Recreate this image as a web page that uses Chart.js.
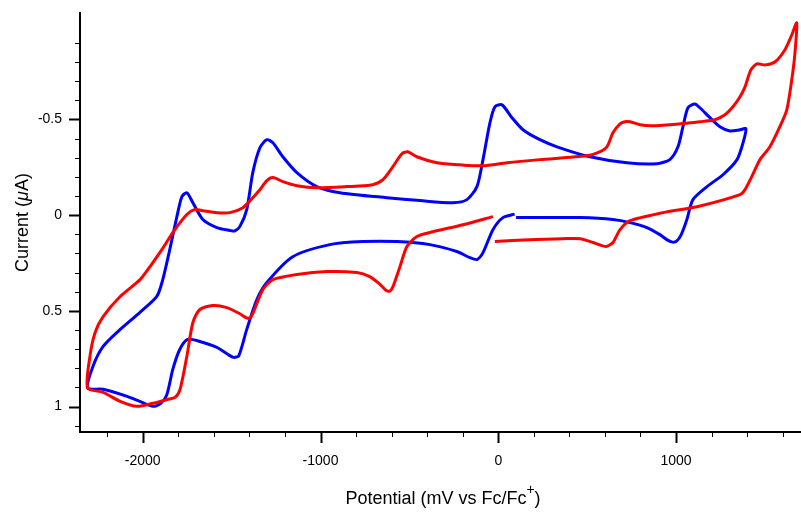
<!DOCTYPE html>
<html>
<head>
<meta charset="utf-8">
<script src="https://cdn.jsdelivr.net/npm/chart.js@4/dist/chart.umd.min.js"></script>
<style>
  html, body { margin: 0; padding: 0; background: #fff; }
  #wrap { width: 801px; height: 512px; }
</style>
</head>
<body>
<div id="wrap"><canvas id="cv" width="801" height="512"></canvas></div>
<script>
// potential in mV vs Fc/Fc+, current in uA
const redX = [-19, 178, 364, 460, 533, 606, 645, 685, 741, 927, 1118, 1360, 1388, 1426, 1472, 1528, 1584, 1623, 1651, 1668, 1679,
  1651, 1612, 1556, 1500, 1455, 1421, 1388, 1360, 1320, 1275, 1219, 1135, 1022, 870, 797, 741, 712, 685, 645, 611, 560, 498,
  233, 49, -86, -215, -345, -458, -509, -542, -593, -649, -706, -852, -1021, -1133, -1212, -1268, -1302, -1341, -1381,
  -1437, -1510, -1583, -1662, -1707, -1752, -1831, -1885, -1960, -2015, -2127, -2223, -2268, -2297, -2310,
  -2223, -2127, -2032, -1942, -1863, -1818, -1790, -1752, -1718, -1679, -1606, -1527, -1454, -1420, -1398, -1381, -1324, -1268,
  -1133, -964, -796, -723, -667, -632, -610, -593, -553, -514, -458, -385, -199, -30];
const redY = [0.138, 0.128, 0.123, 0.123, 0.143, 0.164, 0.143, 0.076, 0.029, -0.013, -0.044, -0.107, -0.133, -0.201, -0.290, -0.357, -0.462, -0.550, -0.707, -0.837, -1.004,
  -0.941, -0.863, -0.800, -0.785, -0.790, -0.759, -0.670, -0.618, -0.566, -0.524, -0.498, -0.488, -0.477, -0.467, -0.472, -0.488, -0.488, -0.477, -0.430, -0.357, -0.326, -0.310,
  -0.290, -0.274, -0.258, -0.263, -0.274, -0.305, -0.331, -0.321, -0.253, -0.185, -0.159, -0.149, -0.143, -0.154, -0.175, -0.196, -0.180, -0.133, -0.091,
  -0.039, -0.013, -0.013, -0.023, -0.029, -0.003, 0.091, 0.170, 0.270, 0.337, 0.425, 0.530, 0.613, 0.738, 0.903,
  0.926, 0.973, 0.999, 0.983, 0.963, 0.952, 0.910, 0.738, 0.561, 0.493, 0.472, 0.483, 0.515, 0.535, 0.538, 0.515, 0.389, 0.337,
  0.310, 0.295, 0.300, 0.321, 0.360, 0.392, 0.397, 0.375, 0.269, 0.164, 0.112, 0.091, 0.050, 0.008];

const blueX = [100, 274, 460, 645, 741, 836, 909, 955, 980, 1003, 1030, 1061, 1095, 1174, 1264, 1343, 1377, 1393,
  1360, 1303, 1247, 1191, 1134, 1106, 1067, 1039, 1011, 965, 892, 723, 515, 330, 234, 139, 77, 21, -19, -47, -86, -120,
  -176, -255, -440, -627, -891, -1021, -1133, -1212, -1268, -1302, -1341, -1381, -1415, -1454, -1483, -1510, -1583, -1662,
  -1718, -1752, -1780, -1808, -1848, -1887, -1921, -2017, -2127, -2223, -2280, -2310,
  -2223, -2088, -2017, -1942, -1900, -1865, -1831, -1792, -1747, -1679, -1583, -1520, -1490, -1460, -1415, -1358, -1302,
  -1156, -948, -762, -571, -385, -233, -160, -120, -86, -30, 26, 92];
const blueY = [0.013, 0.013, 0.013, 0.023, 0.039, 0.065, 0.102, 0.132, 0.141, 0.136, 0.100, 0.023, -0.081, -0.149, -0.211, -0.290, -0.378, -0.451,
  -0.446, -0.440, -0.462, -0.509, -0.561, -0.581, -0.561, -0.462, -0.357, -0.290, -0.269, -0.274, -0.305, -0.357, -0.394, -0.446, -0.509, -0.576, -0.566, -0.482, -0.290, -0.149,
  -0.081, -0.065, -0.076, -0.091, -0.117, -0.149, -0.222, -0.305, -0.378, -0.394, -0.352, -0.222, -0.029, 0.060, 0.083, 0.080, 0.065, 0.023,
  -0.065, -0.117, -0.096, 0.008, 0.180, 0.336, 0.425, 0.509, 0.597, 0.686, 0.790, 0.903,
  0.910, 0.947, 0.973, 0.999, 0.985, 0.940, 0.806, 0.702, 0.649, 0.660, 0.691, 0.728, 0.743, 0.735, 0.597, 0.441, 0.352,
  0.217, 0.154, 0.138, 0.138, 0.154, 0.190, 0.222, 0.232, 0.196, 0.076, 0.013, -0.005];

// axis ticks
const xTicks = [-2200, -2000, -1800, -1600, -1400, -1200, -1000, -800, -600, -400, -200, 0, 200, 400, 600, 800, 1000, 1200, 1400, 1600];
const xLabels = [-2000, -1000, 0, 1000];
const yTicks = [-0.9, -0.8, -0.7, -0.6, -0.5, -0.4, -0.3, -0.2, -0.1, 0, 0.1, 0.2, 0.3, 0.4, 0.5, 0.6, 0.7, 0.8, 0.9, 1, 1.1];
const yLabels = [-0.5, 0, 0.5, 1];

const FONT = "'Liberation Sans', Arial, Helvetica, sans-serif";

function toPoints(xs, ys) {
  return xs.map((x, i) => ({ x: x, y: ys[i] }));
}

const isMajor = (list, v) => list.some((m) => Math.abs(m - v) < 1e-6);

// minor/major tick marks and the two axis titles
const axisDecor = {
  id: "axisDecor",
  afterDraw(chart) {
    const ctx = chart.ctx;
    const xs = chart.scales.x;
    const ys = chart.scales.y;
    const area = chart.chartArea;
    ctx.save();
    ctx.strokeStyle = "#000";
    xTicks.forEach((v) => {
      const px = Math.round(xs.getPixelForValue(v)) + 0.5;
      const major = isMajor(xLabels, v);
      ctx.lineWidth = major ? 2 : 1;
      ctx.beginPath();
      ctx.moveTo(px, area.bottom);
      ctx.lineTo(px, area.bottom + (major ? 11 : 5));
      ctx.stroke();
    });
    yTicks.forEach((v) => {
      const py = Math.round(ys.getPixelForValue(v)) + 0.5;
      const major = isMajor(yLabels, v);
      ctx.lineWidth = major ? 2 : 1;
      ctx.beginPath();
      ctx.moveTo(area.left, py);
      ctx.lineTo(area.left - (major ? 11 : 5), py);
      ctx.stroke();
    });

    // x title with raised "+"
    ctx.fillStyle = "#000";
    ctx.textBaseline = "alphabetic";
    ctx.textAlign = "left";
    const main = "Potential (mV vs Fc/Fc";
    ctx.font = "18px " + FONT;
    const w1 = ctx.measureText(main).width;
    const w3 = ctx.measureText(")").width;
    ctx.font = "14px " + FONT;
    const w2 = ctx.measureText("+").width;
    let x0 = 443 - (w1 + w2 + w3) / 2;
    ctx.font = "18px " + FONT;
    ctx.fillText(main, x0, 504);
    ctx.font = "14px " + FONT;
    ctx.fillText("+", x0 + w1, 494);
    ctx.font = "18px " + FONT;
    ctx.fillText(")", x0 + w1 + w2, 504);

    // y title, rotated, italic mu
    ctx.translate(28, 222.5);
    ctx.rotate(-Math.PI / 2);
    const a = "Current (";
    const c = "A)";
    ctx.font = "18px " + FONT;
    const wa = ctx.measureText(a).width;
    const wc = ctx.measureText(c).width;
    ctx.font = "italic 18px " + FONT;
    const wb = ctx.measureText("\u03bc").width;
    let s = -(wa + wb + wc) / 2;
    ctx.font = "18px " + FONT;
    ctx.fillText(a, s, 0);
    ctx.font = "italic 18px " + FONT;
    ctx.fillText("\u03bc", s + wa, 0);
    ctx.font = "18px " + FONT;
    ctx.fillText(c, s + wa + wb, 0);
    ctx.restore();
  },
};

// keep the plot box fixed: no extra room for the end labels
function noPad(scale) {
  scale.paddingTop = 0;
  scale.paddingBottom = 0;
  scale.paddingLeft = 0;
  scale.paddingRight = 0;
}

new Chart(document.getElementById("cv"), {
  type: "scatter",
  data: {
    datasets: [
      {
        label: "red",
        data: toPoints(redX, redY),
        showLine: true,
        borderColor: "#ff0000",
        borderWidth: 3,
        pointRadius: 0,
        tension: 0.25,
        fill: false,
      },
      {
        label: "blue",
        data: toPoints(blueX, blueY),
        showLine: true,
        borderColor: "#0000ff",
        borderWidth: 3,
        pointRadius: 0,
        tension: 0.25,
        fill: false,
      },
    ],
  },
  options: {
    responsive: false,
    animation: false,
    devicePixelRatio: 1,
    layout: { padding: { top: 13, left: 0, right: 0, bottom: 0 } },
    plugins: { legend: { display: false }, tooltip: { enabled: false } },
    scales: {
      x: {
        type: "linear",
        min: -2353,
        max: 1703,
        afterBuildTicks: (scale) => {
          scale.ticks = xTicks.map((v) => ({ value: v }));
        },
        afterFit: (scale) => {
          scale.height = 80;
          noPad(scale);
        },
        grid: { display: true, drawOnChartArea: false, drawTicks: false },
        border: { display: true, color: "#000", width: 2 },
        ticks: {
          autoSkip: false,
          maxRotation: 0,
          padding: 21,
          color: "#000",
          font: { family: FONT, size: 14 },
          callback: (v) => (isMajor(xLabels, v) ? String(v) : ""),
        },
      },
      y: {
        type: "linear",
        reverse: true,
        min: -1.056,
        max: 1.133,
        afterBuildTicks: (scale) => {
          scale.ticks = yTicks.map((v) => ({ value: v }));
        },
        afterFit: (scale) => {
          scale.width = 80;
          noPad(scale);
        },
        grid: { display: true, drawOnChartArea: false, drawTicks: false },
        border: { display: true, color: "#000", width: 2 },
        ticks: {
          autoSkip: false,
          padding: 18,
          color: "#000",
          font: { family: FONT, size: 14 },
          callback: (v) => (isMajor(yLabels, v) ? String(v) : ""),
        },
      },
    },
  },
  plugins: [axisDecor],
});
</script>
</body>
</html>
